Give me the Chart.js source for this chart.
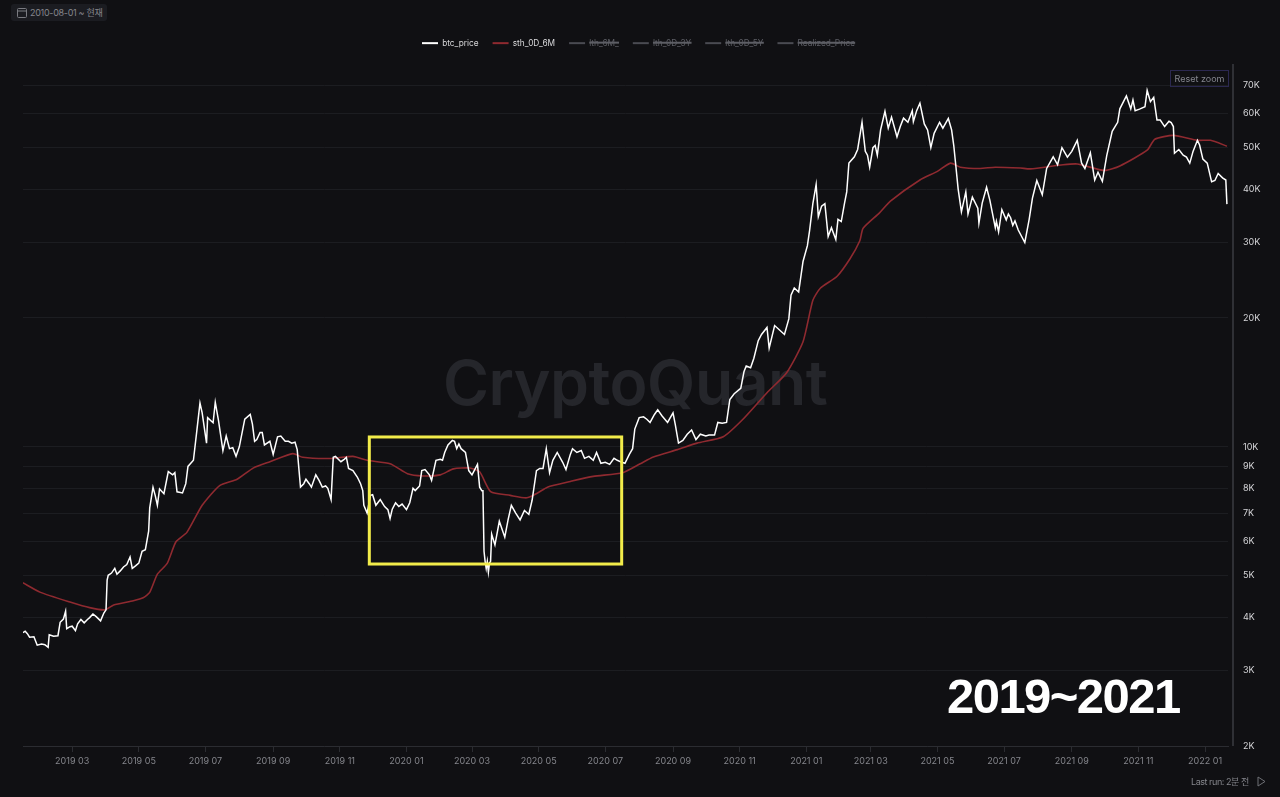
<!DOCTYPE html>
<html lang="ko">
<head>
<meta charset="utf-8">
<title>btc_price vs sth_0D_6M</title>
<script src="https://cdn.jsdelivr.net/npm/chart.js@4"></script>
<style>
html,body{margin:0;padding:0;background:#101013;width:1280px;height:797px;overflow:hidden;font-family:Inter,"Noto Sans CJK KR",sans-serif}
#wrap{position:absolute;left:0;top:0;width:1280px;height:797px}
#chart{position:absolute;left:0;top:0;z-index:1}
.abs{position:absolute;white-space:nowrap}
#mark{left:443px;top:340px;font:600 62.5px/84px Inter,sans-serif;color:#25262b;z-index:0;letter-spacing:-.5px}
#pill{left:11px;top:4px;width:96px;height:17px;background:#1b1c21;border-radius:3px;z-index:2}
#pillText{left:30px;top:6px;font:9px/13px Inter,"Noto Sans CJK KR",sans-serif;color:#85868c;z-index:3;letter-spacing:-.3px}
#reset{left:1170px;top:70px;width:57px;height:15px;border:1px solid #2b2850;font:9px/15px Inter,sans-serif;color:#85868f;text-align:center;z-index:3}
#last{left:1191px;top:775px;font:9px/13px Inter,"Noto Sans CJK KR",sans-serif;color:#85868c;z-index:3;letter-spacing:-.45px}
#years{left:947px;top:667px;font:700 49px/58px "Liberation Sans",sans-serif;color:#fff;z-index:3;letter-spacing:-1.55px}
svg{position:absolute;z-index:3}
</style>
</head>
<body>
<div id="wrap">
<div id="mark" class="abs">CryptoQuant</div>
<canvas id="chart" width="1280" height="797"></canvas>
<div id="pill" class="abs"></div>
<svg style="left:17px;top:7px" width="10" height="11" viewBox="0 0 10 11"><rect x="0.5" y="1.5" width="9" height="9" rx="1" fill="none" stroke="#7b7c82"/><line x1="0.5" y1="4" x2="9.5" y2="4" stroke="#7b7c82"/></svg>
<div id="pillText" class="abs">2010-08-01 ~ 현재</div>
<div id="reset" class="abs">Reset zoom</div>
<div id="last" class="abs">Last run: 2분 전</div>
<svg style="left:1257px;top:776px" width="9" height="11" viewBox="0 0 9 11"><path d="M1 1 L8 5.5 L1 10 Z" fill="none" stroke="#6f7076"/></svg>
<div id="years" class="abs">2019~2021</div>
</div>
<script>
const seriesNames = ['btc_price','sth_0D_6M','lth_6M_','lth_0D_3Y','lth_0D_5Y','Realized_Price'];
const tickDates = ['2019-03-01','2019-05-01','2019-07-01','2019-09-01','2019-11-01','2020-01-01','2020-03-01','2020-05-01','2020-07-01','2020-09-01','2020-11-01','2021-01-01','2021-03-01','2021-05-01','2021-07-01','2021-09-01','2021-11-01','2022-01-01'];
const tickLabels = ['2019 03','2019 05','2019 07','2019 09','2019 11','2020 01','2020 03','2020 05','2020 07','2020 09','2020 11','2021 01','2021 03','2021 05','2021 07','2021 09','2021 11','2022 01'];
const priceTicks = [2000,3000,4000,5000,6000,7000,8000,9000,10000,20000,30000,40000,50000,60000,70000];
const boxDates = ['2019-11-28','2020-07-16'];
const boxPrices = [5323,10543];

const btcDates = [
'2019-01-15','2019-01-17','2019-01-19','2019-01-21','2019-01-25','2019-01-28',
'2019-02-01','2019-02-04','2019-02-07','2019-02-08','2019-02-12','2019-02-16','2019-02-18','2019-02-21','2019-02-23','2019-02-24','2019-02-27',
'2019-03-01','2019-03-04','2019-03-06','2019-03-09','2019-03-12','2019-03-15','2019-03-17','2019-03-20','2019-03-23','2019-03-27','2019-03-30',
'2019-04-01','2019-04-02','2019-04-03','2019-04-06','2019-04-09','2019-04-11','2019-04-14','2019-04-17','2019-04-20','2019-04-23','2019-04-25','2019-04-28',
'2019-05-01','2019-05-04','2019-05-07','2019-05-10','2019-05-11','2019-05-14','2019-05-16','2019-05-18','2019-05-20','2019-05-24','2019-05-28',
'2019-06-01','2019-06-03','2019-06-05','2019-06-10','2019-06-13','2019-06-15','2019-06-20','2019-06-23','2019-06-26','2019-06-28',
'2019-07-02','2019-07-03','2019-07-08','2019-07-10','2019-07-13','2019-07-17','2019-07-20','2019-07-23','2019-07-26','2019-07-29',
'2019-08-01','2019-08-06','2019-08-11','2019-08-13','2019-08-15','2019-08-17','2019-08-20','2019-08-22','2019-08-24','2019-08-29',
'2019-09-01','2019-09-05','2019-09-08','2019-09-12','2019-09-15','2019-09-18','2019-09-21','2019-09-23','2019-09-26','2019-09-29',
'2019-10-01','2019-10-04','2019-10-06','2019-10-10','2019-10-13','2019-10-16','2019-10-19','2019-10-21','2019-10-24','2019-10-26','2019-10-28',
'2019-11-02','2019-11-05','2019-11-07','2019-11-09','2019-11-13','2019-11-17','2019-11-20','2019-11-22','2019-11-23','2019-11-26','2019-11-29',
'2019-12-01','2019-12-04','2019-12-08','2019-12-12','2019-12-15','2019-12-17','2019-12-19','2019-12-22','2019-12-25','2019-12-28',
'2020-01-01','2020-01-04','2020-01-07','2020-01-09','2020-01-13','2020-01-15','2020-01-18','2020-01-22','2020-01-24','2020-01-28',
'2020-02-01','2020-02-03','2020-02-05','2020-02-08','2020-02-12','2020-02-14','2020-02-16','2020-02-18','2020-02-20','2020-02-24','2020-02-27',
'2020-03-01','2020-03-06','2020-03-08','2020-03-10','2020-03-11','2020-03-12','2020-03-13','2020-03-14','2020-03-15','2020-03-16','2020-03-17','2020-03-18','2020-03-19','2020-03-22','2020-03-26','2020-03-31',
'2020-04-03','2020-04-06','2020-04-10','2020-04-14','2020-04-18','2020-04-22','2020-04-25','2020-04-29',
'2020-05-02','2020-05-05','2020-05-08','2020-05-11','2020-05-14','2020-05-18','2020-05-23','2020-05-26','2020-05-30',
'2020-06-01','2020-06-05','2020-06-09','2020-06-12','2020-06-16','2020-06-20','2020-06-23','2020-06-27',
'2020-07-01','2020-07-05','2020-07-09','2020-07-12','2020-07-16','2020-07-19','2020-07-23','2020-07-26','2020-07-28',
'2020-08-01','2020-08-05','2020-08-08','2020-08-11','2020-08-15','2020-08-18','2020-08-22','2020-08-27',
'2020-09-01','2020-09-03','2020-09-06','2020-09-10','2020-09-14','2020-09-18','2020-09-22','2020-09-26',
'2020-10-01','2020-10-04','2020-10-09','2020-10-12','2020-10-16','2020-10-20','2020-10-23','2020-10-27',
'2020-11-02','2020-11-05','2020-11-07','2020-11-11','2020-11-14','2020-11-18','2020-11-21','2020-11-26','2020-11-28',
'2020-12-03','2020-12-08','2020-12-12','2020-12-16','2020-12-18','2020-12-21','2020-12-25','2020-12-29',
'2021-01-02','2021-01-04','2021-01-07','2021-01-10','2021-01-12','2021-01-15','2021-01-18','2021-01-21','2021-01-24','2021-01-28','2021-01-30',
'2021-02-02','2021-02-05','2021-02-07','2021-02-09','2021-02-14','2021-02-17','2021-02-21','2021-02-24','2021-02-26','2021-02-28',
'2021-03-03','2021-03-05','2021-03-07','2021-03-10','2021-03-14','2021-03-17','2021-03-20','2021-03-25','2021-03-28','2021-03-31',
'2021-04-04','2021-04-08','2021-04-09','2021-04-12','2021-04-15','2021-04-19','2021-04-22','2021-04-25','2021-04-28',
'2021-05-03','2021-05-06','2021-05-11','2021-05-14','2021-05-16','2021-05-18','2021-05-20','2021-05-23','2021-05-27','2021-05-29',
'2021-06-02','2021-06-07','2021-06-08','2021-06-11','2021-06-15','2021-06-18','2021-06-23','2021-06-24','2021-06-26','2021-06-29',
'2021-07-03','2021-07-05','2021-07-07','2021-07-09','2021-07-11','2021-07-14','2021-07-20','2021-07-24','2021-07-27','2021-07-31',
'2021-08-05','2021-08-09','2021-08-15','2021-08-19','2021-08-23','2021-08-28',
'2021-09-01','2021-09-06','2021-09-10','2021-09-13','2021-09-18','2021-09-22','2021-09-25','2021-09-29',
'2021-10-03','2021-10-08','2021-10-13','2021-10-15','2021-10-21','2021-10-25','2021-10-27','2021-10-29',
'2021-11-02','2021-11-07','2021-11-09','2021-11-12','2021-11-15','2021-11-18','2021-11-21','2021-11-25','2021-11-29',
'2021-12-01','2021-12-03','2021-12-04','2021-12-08','2021-12-12','2021-12-15','2021-12-18','2021-12-21','2021-12-25','2021-12-27','2021-12-30',
'2022-01-03','2022-01-07','2022-01-10','2022-01-13','2022-01-17','2022-01-20','2022-01-21'
];
const btcPrices = [
3680,3710,3660,3590,3600,3440,
3460,3450,3400,3640,3610,3620,3890,3960,4130,3760,3800,
3810,3720,3860,3950,3880,3950,3990,4070,4010,3920,4090,
4160,4880,5010,5070,5200,5040,5130,5240,5310,5530,5200,5270,
5350,5700,5750,6350,7200,8040,7700,7300,7970,7770,8750,
8600,8700,7850,7800,8200,9000,9300,10840,12650,12000,
10200,11700,11380,12700,11500,9800,10600,9900,9950,9500,
10000,11600,11900,11300,10300,10400,10800,10800,10100,10300,
9600,10550,10600,10300,10300,10200,10250,9850,8050,8200,
8400,8200,8050,8600,8350,8050,8100,8000,7530,9450,9500,
9230,9350,9450,8900,8800,8500,8200,7900,7300,7000,7700,
7730,7300,7530,7250,7130,6800,7150,7400,7250,7350,
7130,7400,8000,7900,8100,8800,8850,8600,8350,9300,
9350,9300,9700,10100,10350,10300,9900,10150,9900,9700,8800,
8600,9100,8050,7900,7900,5700,5400,5200,5400,5100,5350,5400,6250,5900,6700,6150,
6750,7300,7000,6750,7100,6950,7500,8800,
8900,8900,9900,8700,9300,9700,9200,8850,9600,
9900,9700,9800,9400,9500,9300,9700,9150,
9200,9100,9400,9300,9200,9150,9600,9900,11000,
11700,11750,11600,11400,11900,12200,11800,11400,
12000,11300,10200,10350,10700,10950,10400,10700,
10600,10650,10650,11400,11350,11400,12900,13300,
13700,15000,15450,15300,16100,17700,18300,19000,17000,
19200,18700,18300,19900,22600,23500,23000,27100,
29500,32000,37000,41000,34500,36500,37000,31000,32500,30500,34000,
33600,37100,39400,46000,47600,49500,57300,49000,48000,45000,
50000,50600,48000,55000,60800,55500,58900,53000,56000,58600,
57300,61000,57500,61000,63500,56800,55000,50000,54000,
57300,55500,58500,55000,50500,45000,40000,35400,39400,35000,
38300,36100,33300,37100,40400,37700,32500,33600,31800,35800,
33900,35000,34300,32900,33700,32100,30000,34000,38100,41900,
38800,44700,47600,45600,50000,47500,
49000,52000,46000,44700,48600,42000,43800,41700,
47900,54600,57300,61600,66000,61600,64600,61000,
61500,62300,68000,64000,65500,58000,58000,56000,57600,
57200,56000,48500,49500,48000,47500,46000,49000,52000,50700,47000,
46000,41600,41900,43500,42500,42000,36900
];

const sthDates = ['2019-01-15','2019-01-31','2019-02-27','2019-03-17','2019-03-31','2019-04-08','2019-04-26','2019-05-05','2019-05-11','2019-05-18','2019-05-27','2019-06-04','2019-06-14','2019-06-28','2019-07-14','2019-07-30','2019-08-14','2019-08-29','2019-09-19','2019-09-28','2019-10-23','2019-11-13','2019-11-26','2019-12-17','2020-01-02','2020-01-16','2020-02-01','2020-02-13','2020-02-28','2020-03-08','2020-03-18','2020-04-05','2020-04-20','2020-04-30','2020-05-09','2020-05-30','2020-06-20','2020-07-17','2020-08-02','2020-08-14','2020-09-05','2020-09-23','2020-10-17','2020-11-04','2020-11-26','2020-12-14','2020-12-29','2021-01-07','2021-01-14','2021-01-29','2021-02-10','2021-02-19','2021-02-22','2021-03-09','2021-03-19','2021-04-15','2021-05-01','2021-05-13','2021-05-22','2021-06-09','2021-06-23','2021-07-16','2021-07-25','2021-08-24','2021-09-06','2021-10-01','2021-10-15','2021-11-09','2021-11-16','2021-12-03','2021-12-25','2022-01-06','2022-01-21'];
const sthPrices = [4812,4570,4340,4210,4160,4270,4370,4440,4570,5040,5340,6000,6310,7300,8120,8400,8930,9230,9640,9450,9390,9500,9300,9130,8650,8550,8600,8880,8920,8740,7860,7700,7600,7800,8050,8300,8530,8700,9130,9470,9850,10200,10560,11600,13380,14900,17600,22000,23500,25000,27500,30300,32400,35200,37500,42000,44000,46000,45000,44700,45000,44800,44600,45600,45800,44200,45300,49300,52300,53400,52000,52000,50400];

const day = s => Date.parse(s + 'T00:00:00Z') / 86400000;
const points = (dates, values) => dates.map((d, i) => ({x: day(d), y: values[i]}));

const btcLine = {
  label: seriesNames[0], data: points(btcDates, btcPrices),
  borderColor: '#ffffff', backgroundColor: '#ffffff', borderWidth: 1.5, pointRadius: 0, tension: 0
};
const sthLine = {
  label: seriesNames[1], data: points(sthDates, sthPrices),
  borderColor: '#8f2a30', backgroundColor: '#8f2a30', borderWidth: 1.6, pointRadius: 0, tension: 0.2
};
const hiddenColor = '#4a4b52';
const hiddenLines = seriesNames.slice(2).map(n => ({label: n, data: [], hidden: true, borderColor: hiddenColor, backgroundColor: hiddenColor}));

const decorate = {
  id: 'decorate',
  beforeUpdate(c) {
    const lg = c.legend;
    if (lg && !lg._fitWrapped) {
      const fit = lg.fit;
      lg.fit = function () { fit.call(this); this.height = 39; };
      lg._fitWrapped = true;
    }
  },
  afterLayout(c) {
    c.legend.left -= 13;
    c.legend.right -= 13;
  },
  afterDatasetsDraw(c) {
    const {ctx, scales: {x, y}, chartArea: a} = c;
    ctx.save();
    ctx.strokeStyle = '#3a3b42'; ctx.lineWidth = 1.5;
    ctx.beginPath(); ctx.moveTo(a.right + 5, a.top); ctx.lineTo(a.right + 5, a.bottom); ctx.stroke();
    ctx.strokeStyle = '#f2ec4a'; ctx.lineWidth = 3;
    const x0 = x.getPixelForValue(day(boxDates[0])), x1 = x.getPixelForValue(day(boxDates[1]));
    const y0 = y.getPixelForValue(boxPrices[1]), y1 = y.getPixelForValue(boxPrices[0]);
    ctx.strokeRect(x0, y0, x1 - x0, y1 - y0);
    ctx.restore();
  }
};

new Chart(document.getElementById('chart'), {
  type: 'line',
  data: {datasets: [btcLine, sthLine, ...hiddenLines]},
  plugins: [decorate],
  options: {
    responsive: false, animation: false,
    layout: {padding: {left: 23, right: 0, top: 25, bottom: 0}},
    interaction: {mode: null},
    plugins: {
      tooltip: {enabled: false},
      legend: {
        display: true, position: 'top', align: 'center',
        labels: {
          boxWidth: 16, boxHeight: 2, padding: 14,
          font: {family: 'Inter', size: 8.3},
          generateLabels(c) {
            const items = Chart.defaults.plugins.legend.labels.generateLabels(c);
            items.forEach(it => { it.fontColor = it.hidden ? '#5d5e65' : '#d8d8da'; it.lineWidth = 0; });
            return items;
          }
        }
      }
    },
    scales: {
      x: {
        type: 'linear',
        min: day('2019-01-15'), max: day('2022-01-22'),
        afterFit(s) { s.height = 51; },
        afterBuildTicks(s) { s.ticks = tickDates.map(d => ({value: day(d)})); },
        grid: {drawOnChartArea: false, drawTicks: true, tickLength: 6, color: '#2b2c31'},
        border: {display: true, color: '#2b2c31'},
        ticks: {
          autoSkip: false, maxRotation: 0, padding: 4, color: '#85868c',
          font: {family: 'Inter', size: 9},
          callback(v) { return tickLabels[tickDates.findIndex(d => day(d) === v)]; }
        }
      },
      y: {
        type: 'logarithmic', position: 'right',
        min: 2000, max: 78400,
        afterFit(s) { s.width = 52; },
        afterBuildTicks(s) { s.ticks = priceTicks.map(v => ({value: v})); },
        grid: {color: '#1c1d21', drawTicks: false},
        border: {display: false},
        ticks: {
          autoSkip: false, padding: 15, color: '#d5d5d8',
          font: {family: 'Inter', size: 9},
          callback(v) { return (v / 1000) + 'K'; }
        }
      }
    }
  }
});
</script>
</body>
</html>
